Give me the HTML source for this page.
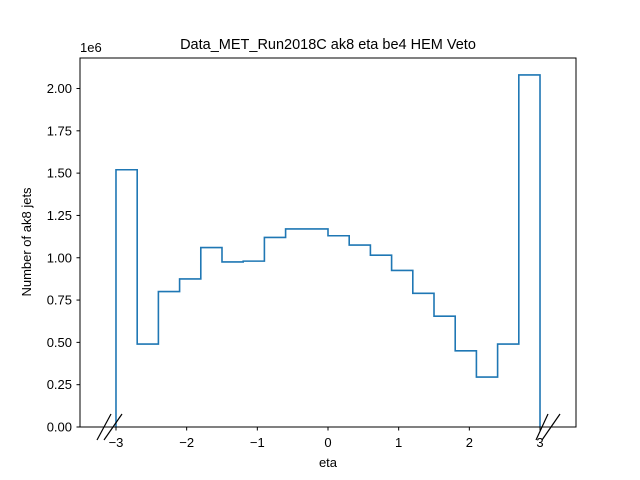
<!DOCTYPE html>
<html><head><meta charset="utf-8"><style>body{margin:0;background:#fff}svg{display:block;font-family:"Liberation Sans","DejaVu Sans",sans-serif}</style></head>
<body>
<svg id="c" width="640" height="480">
<rect x="0" y="0" width="640" height="480" fill="#fff"/>
<text x="328" y="49" text-anchor="middle" font-size="14.5">Data_MET_Run2018C ak8 eta be4 HEM Veto</text>
<g id="plot"></g>
<rect x="80" y="58" width="496" height="369" fill="none" stroke="#000" stroke-width="1"/>
<text x="328" y="467" text-anchor="middle" font-size="13">eta</text>
<text transform="translate(31,242) rotate(-90)" text-anchor="middle" font-size="13">Number of ak8 jets</text>
<text x="80" y="52" font-size="13">1e6</text>
<g stroke="#000" stroke-width="1.2">
<line x1="97" y1="440" x2="111" y2="414"/><line x1="104" y1="440" x2="122" y2="414"/>
<line x1="536" y1="440" x2="548" y2="414"/><line x1="542" y1="440" x2="560" y2="414"/>
</g>
</svg>
<script>
const binEdges=[-3,-2.7,-2.4,-2.1,-1.8,-1.5,-1.2,-0.9,-0.6,-0.3,0,0.3,0.6,0.9,1.2,1.5,1.8,2.1,2.4,2.7,3];
const counts=[1.52,0.49,0.80,0.875,1.06,0.975,0.98,1.12,1.17,1.17,1.13,1.075,1.015,0.925,0.79,0.655,0.45,0.295,0.49,2.08];
const xTicks=[-3,-2,-1,0,1,2,3];
const xTickLabels=["\u22123","\u22122","\u22121","0","1","2","3"];
const yTicks=[0,0.25,0.5,0.75,1.0,1.25,1.5,1.75,2.0];
const yTickLabels=["0.00","0.25","0.50","0.75","1.00","1.25","1.50","1.75","2.00"];
const NS="http://www.w3.org/2000/svg";
const X=v=>328+v*70.67, Y=v=>427-v*169.25;
const g=document.getElementById('plot');
function mk(t,a){const e=document.createElementNS(NS,t);for(const k in a)e.setAttribute(k,a[k]);return e;}
let d=`M${X(binEdges[0])},${Y(0)}`;
counts.forEach((c,i)=>{d+=` L${X(binEdges[i])},${Y(c)} L${X(binEdges[i+1])},${Y(c)}`;});
d+=` L${X(binEdges[binEdges.length-1])},${Y(0)}`;
const p=mk('path',{d:d,fill:'none',stroke:'#1f77b4','stroke-width':1.6});


g.appendChild(p);
xTicks.forEach((v,i)=>{
 const l=mk('line',{x1:X(v),x2:X(v),y1:427,y2:430.5,stroke:'#000'});
 
 
 g.appendChild(l);
 const t=mk('text',{x:X(v),y:447,'text-anchor':'middle','font-size':13});
 t.textContent=xTickLabels[i];
 
 
 g.appendChild(t);
});
yTicks.forEach((v,i)=>{
 const l=mk('line',{x1:76.5,x2:80,y1:Y(v),y2:Y(v),stroke:'#000'});
 
 
 g.appendChild(l);
 const t=mk('text',{x:72,y:Y(v)+4.5,'text-anchor':'end','font-size':13});
 t.textContent=yTickLabels[i];
 
 
 g.appendChild(t);
});
</script>
</body></html>
